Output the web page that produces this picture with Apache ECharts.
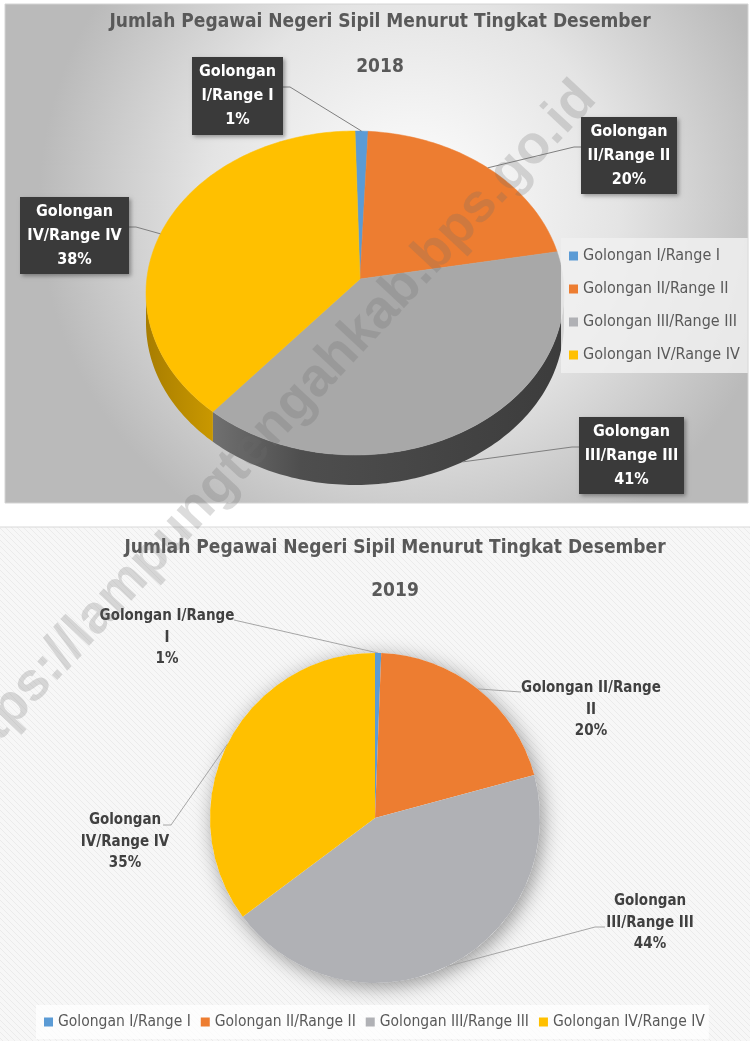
<!DOCTYPE html>
<html>
<head>
<meta charset="utf-8">
<script src="https://cdn.jsdelivr.net/npm/echarts@6/dist/echarts.min.js"></script>
<style>
html, body { margin: 0; padding: 0; background: #fff; }
#chart { width: 750px; height: 1041px; }
</style>
</head>
<body>
<div id="chart"></div>
<script>
// data
var categories = ['Golongan I/Range I', 'Golongan II/Range II', 'Golongan III/Range III', 'Golongan IV/Range IV'];
var values2018 = [1.0, 19.9, 41.0, 38.1];
var values2019 = [0.6, 20.2, 44.0, 35.2];
var years = ['2018', '2019'];
var titleText = 'Jumlah Pegawai Negeri Sipil Menurut Tingkat Desember';

var FONT = "'Liberation Sans Narrow', 'DejaVu Sans Condensed', Roboto, sans-serif";
var colorsTop = ['#5b9bd5', '#ed7d31', '#a8a8a8', '#ffc000'];
var colorsBottom = ['#5b9bd5', '#ed7d31', '#b0b1b5', '#ffc000'];
// side walls of the 3d pie
var sideColors = [
    '#3d6f9c', '#b35a1f',
    new echarts.graphic.LinearGradient(0, 0, 1, 0, [
        { offset: 0, color: '#707070' }, { offset: 0.25, color: '#4e4e4e' }, { offset: 1, color: '#3c3c3c' }
    ]),
    new echarts.graphic.LinearGradient(0, 0, 1, 0, [
        { offset: 0, color: '#a87d00' }, { offset: 1, color: '#c99800' }
    ])
];

// layout of the 3d pie (2018)
var P3 = { cx: 355, cy: 293, ax: 360, ay: 279, rx: 209, ry: 162, depth: 30 };
var boxes2018 = [
    { x: 192, y: 57, w: 91, h: 78 },
    { x: 581, y: 117, w: 96, h: 77 },
    { x: 579, y: 417, w: 105, h: 77 },
    { x: 20, y: 197, w: 109, h: 77 }
];
// label layout of the flat pie (2019)
var pie2 = { cx: 375, cy: 818, r: 165 };
var labels2019 = [
    { x: 167, y: 638, wrap: 17, ex: 234, ey: 620, stub: 0 },
    { x: 591, y: 710, wrap: 17, ex: 521, ey: 692, stub: 0 },
    { x: 650, y: 923, wrap: 13, ex: 605, ey: 927, stub: -10 },
    { x: 125, y: 842, wrap: 13, ex: 163, ey: 825, stub: 8 }
];

function sum(arr) { return arr.reduce(function (a, b) { return a + b; }, 0); }
function wrap(name, max) {
    var words = name.split(' '), lines = [], cur = '';
    words.forEach(function (w) {
        if (cur && (cur + ' ' + w).length > max) { lines.push(cur); cur = w; }
        else cur = cur ? cur + ' ' + w : w;
    });
    lines.push(cur);
    return lines;
}
function rim(t, dy) {
    return [P3.cx + P3.rx * Math.sin(t), P3.cy - P3.ry * Math.cos(t) + (dy || 0)];
}
function arcPts(a, b, dy) {
    var n = Math.max(2, Math.ceil((b - a) / 0.02)), pts = [];
    for (var i = 0; i <= n; i++) pts.push(rim(a + (b - a) * i / n, dy));
    return pts;
}

function render3d(params, api) {
    var i = params.dataIndex;
    var total = sum(values2018);
    var start = sum(values2018.slice(0, i));
    var v = api.value(0);
    var a = start / total * Math.PI * 2;
    var b = (start + v) / total * Math.PI * 2;
    var children = [];
    // side wall (front half only)
    var sa = Math.max(a, Math.PI / 2), sb = Math.min(b, Math.PI * 1.5);
    if (sb > sa) {
        var topEdge = arcPts(sa, sb, 0);
        var botEdge = arcPts(sa, sb, P3.depth).reverse();
        children.push({
            type: 'polygon', z2: 1,
            shape: { points: topEdge.concat(botEdge) },
            style: { fill: sideColors[i] }
        });
    }
    // top surface
    children.push({
        type: 'polygon', z2: 2,
        shape: { points: [[P3.ax, P3.ay]].concat(arcPts(a, b, 0)) },
        style: { fill: colorsTop[i], stroke: colorsTop[i], lineWidth: 0.5 }
    });
    // label box + leader
    var bx = boxes2018[i];
    var mid = (a + b) / 2;
    var anchor = rim(mid, Math.cos(mid) < 0 ? P3.depth : 0);
    var onLeft = anchor[0] > bx.x + bx.w / 2;
    var ex = onLeft ? bx.x + bx.w : bx.x;
    var ey = bx.y + 30;
    children.push({
        type: 'polyline', z2: 4,
        shape: { points: [[ex, ey], [ex + (onLeft ? 7 : -7), ey], anchor] },
        style: { stroke: '#7f7f7f', lineWidth: 1, fill: null }
    });
    children.push({
        type: 'rect', z2: 5,
        shape: { x: bx.x, y: bx.y, width: bx.w, height: bx.h },
        style: { fill: '#3a3a3a', shadowBlur: 4, shadowOffsetX: 2, shadowOffsetY: 2, shadowColor: 'rgba(0,0,0,0.35)' }
    });
    var pct = Math.round(v / total * 100) + '%';
    children.push({
        type: 'text', z2: 6,
        x: bx.x + bx.w / 2, y: bx.y + bx.h / 2,
        style: {
            text: wrap(categories[i], 13).concat([pct]).join('\n'),
            fill: '#ffffff', fontSize: 16, fontWeight: 'bold', fontFamily: FONT,
            lineHeight: 24, align: 'center', verticalAlign: 'middle'
        }
    });
    return { type: 'group', children: children };
}

// hatch pattern for the lower panel
var hatch = document.createElement('canvas');
hatch.width = 6; hatch.height = 6;
var hc = hatch.getContext('2d');
hc.fillStyle = '#f7f7f7'; hc.fillRect(0, 0, 6, 6);
hc.strokeStyle = '#ebebeb'; hc.lineWidth = 1;
hc.beginPath(); hc.moveTo(0, 0); hc.lineTo(6, 6); hc.stroke();

var myChart = echarts.init(document.getElementById('chart'));
var total2019 = sum(values2019);

var option = {
    animation: false,
    graphic: {
        elements: [
            {
                type: 'rect', z: -10,
                shape: { x: 5, y: 4, width: 743, height: 499 },
                style: {
                    fill: new echarts.graphic.RadialGradient(0.55, 0.4, 0.75, [
                        { offset: 0, color: '#ffffff' },
                        { offset: 0.55, color: '#e4e4e4' },
                        { offset: 1, color: '#bababa' }
                    ]),
                    stroke: '#d4d4d4', lineWidth: 1
                }
            },
            {
                type: 'rect', z: -10,
                shape: { x: -1, y: 527, width: 752, height: 520 },
                style: { fill: { image: hatch, repeat: 'repeat' }, stroke: '#d9d9d9', lineWidth: 1 }
            },
            {
                type: 'text', z: 100,
                x: 270, y: 430, rotation: 47 * Math.PI / 180,
                style: {
                    text: 'https://lampungtengahkab.bps.go.id',
                    fill: 'rgba(110,110,110,0.24)', fontSize: 54, fontWeight: 'bold',
                    fontFamily: "'Liberation Sans', Arial, sans-serif",
                    align: 'center', verticalAlign: 'middle'
                }
            }
        ]
    },
    title: [
        {
            text: titleText + '\n\n' + years[0],
            left: 380, top: 11, textAlign: 'center', padding: 0,
            textStyle: { fontSize: 19, fontWeight: 'bold', color: '#595959', lineHeight: 22.5, fontFamily: FONT }
        },
        {
            text: titleText + '\n\n' + years[1],
            left: 395, top: 537, textAlign: 'center', padding: 0,
            textStyle: { fontSize: 19, fontWeight: 'bold', color: '#595959', lineHeight: 21.5, fontFamily: FONT }
        }
    ],
    legend: [
        {
            data: categories, orient: 'vertical', left: 561, top: 238,
            padding: [10, 8, 10, 8], itemGap: 17, itemWidth: 9, itemHeight: 9, icon: 'rect',
            selectedMode: false, backgroundColor: 'rgba(240,240,240,0.85)',
            textStyle: { fontSize: 16, color: '#595959', lineHeight: 16, fontFamily: FONT }
        },
        {
            data: categories, orient: 'horizontal', left: 36, top: 1005,
            padding: [9, 4, 9, 8], itemGap: 10, itemWidth: 9, itemHeight: 9, icon: 'rect',
            selectedMode: false, backgroundColor: 'rgba(255,255,255,0.75)',
            textStyle: { fontSize: 15.5, color: '#595959', fontFamily: FONT }
        }
    ],
    series: [
        {
            type: 'custom', name: years[0],
            coordinateSystem: 'none',
            renderItem: render3d,
            data: values2018.map(function (v, i) { return { name: categories[i], value: [v] }; }),
            z: 3
        },
        {
            type: 'pie', name: 'shadow', silent: true,
            center: [pie2.cx, pie2.cy], radius: pie2.r,
            data: [{ value: 1, name: '' }],
            label: { show: false }, labelLine: { show: false },
            itemStyle: { color: '#ffffff', shadowBlur: 20, shadowOffsetX: 3, shadowOffsetY: 4, shadowColor: 'rgba(0,0,0,0.4)' },
            z: 1
        },
        {
            type: 'pie', name: years[1],
            center: [pie2.cx, pie2.cy], radius: pie2.r,
            startAngle: 90, clockwise: true,
            data: values2019.map(function (v, i) {
                return { name: categories[i], value: v, itemStyle: { color: colorsBottom[i] } };
            }),
            label: {
                formatter: function (p) {
                    return wrap(p.name, labels2019[p.dataIndex].wrap).join('\n') + '\n' + Math.round(p.percent) + '%';
                },
                fontSize: 15, fontWeight: 'bold', color: '#404040', lineHeight: 21.5,
                fontFamily: FONT, align: 'center'
            },
            labelLine: { show: true, lineStyle: { color: '#a6a6a6', width: 1 } },
            labelLayout: function (p) {
                var L = labels2019[p.dataIndex];
                var start = sum(values2019.slice(0, p.dataIndex));
                var mid = (start + values2019[p.dataIndex] / 2) / total2019 * Math.PI * 2;
                var p0 = [pie2.cx + pie2.r * Math.sin(mid), pie2.cy - pie2.r * Math.cos(mid)];
                return {
                    x: L.x, y: L.y, align: 'center', verticalAlign: 'middle',
                    labelLinePoints: [p0, [L.ex + L.stub, L.ey], [L.ex, L.ey]]
                };
            },
            itemStyle: { borderWidth: 0 },
            z: 2
        }
    ]
};
myChart.setOption(option);
</script>
</body>
</html>
